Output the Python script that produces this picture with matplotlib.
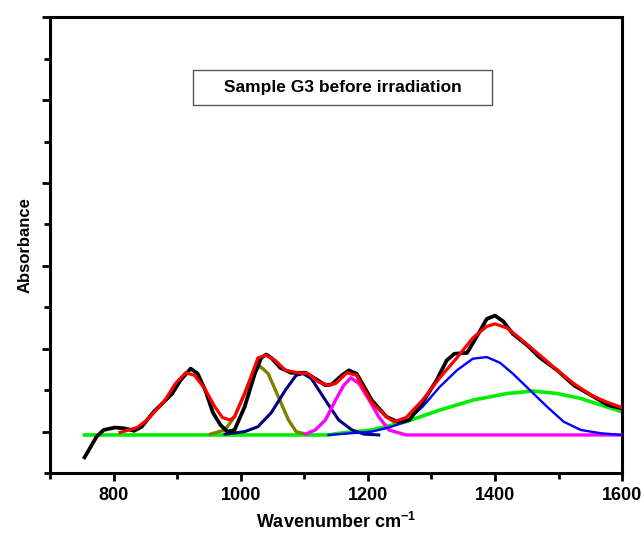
import matplotlib
matplotlib.use("Agg")
import matplotlib.pyplot as plt
from matplotlib.patches import Rectangle
from matplotlib.ticker import MultipleLocator, NullFormatter

plt.rcParams["font.family"] = ["Liberation Sans", "DejaVu Sans"]
plt.rcParams["mathtext.fontset"] = "custom"
plt.rcParams["mathtext.bf"] = "Liberation Sans:bold"

# measured spectrum (black)
meas_x = [754, 773, 784, 802, 817, 832, 844, 863, 879, 892, 905, 921, 932, 944, 956,
          968, 979, 990, 1006, 1022, 1032, 1040, 1048, 1062, 1079, 1102, 1117, 1133,
          1143, 1159, 1170, 1182, 1186, 1206, 1229, 1246, 1265, 1286, 1308, 1324, 1336,
          1356, 1376, 1387, 1400, 1413, 1428, 1451, 1471, 1498, 1524, 1551, 1578, 1595, 1600]
meas_y = [-0.031, -0.006, 0.002, 0.005, 0.004, 0.001, 0.006, 0.024, 0.036, 0.046, 0.062,
          0.076, 0.070, 0.050, 0.023, 0.008, 0.000, 0.002, 0.030, 0.070, 0.089, 0.093,
          0.089, 0.077, 0.071, 0.071, 0.064, 0.056, 0.057, 0.068, 0.074, 0.070, 0.065,
          0.038, 0.018, 0.012, 0.014, 0.035, 0.062, 0.086, 0.094, 0.095, 0.121, 0.136,
          0.140, 0.133, 0.118, 0.104, 0.089, 0.074, 0.056, 0.044, 0.032, 0.029, 0.028]

# cumulative fit (red)
fit_x = [810, 837, 852, 879, 897, 913, 927, 943, 959, 971, 983, 990, 1006, 1027, 1040,
         1054, 1070, 1090, 1106, 1122, 1138, 1149, 1167, 1182, 1186, 1206, 1229, 1241,
         1260, 1286, 1313, 1340, 1365, 1387, 1400, 1419, 1440, 1471, 1498, 1524, 1551,
         1578, 1600]
fit_y = [-0.001, 0.005, 0.014, 0.036, 0.058, 0.071, 0.068, 0.052, 0.030, 0.017, 0.014,
         0.018, 0.046, 0.089, 0.092, 0.086, 0.074, 0.071, 0.070, 0.060, 0.056, 0.058,
         0.071, 0.068, 0.062, 0.035, 0.018, 0.012, 0.017, 0.038, 0.065, 0.089, 0.113,
         0.127, 0.130, 0.125, 0.112, 0.092, 0.074, 0.058, 0.044, 0.035, 0.029]

# fitted bands
olive_x = [952, 975, 990, 1006, 1019, 1030, 1043, 1059, 1075, 1087, 1102]
olive_y = [-0.003, 0.002, 0.018, 0.046, 0.070, 0.079, 0.070, 0.042, 0.014, 0.000, -0.003]

navy_x = [975, 1006, 1027, 1048, 1070, 1087, 1098, 1111, 1133, 1154, 1175, 1194, 1217]
navy_y = [-0.003, 0.000, 0.006, 0.023, 0.050, 0.068, 0.070, 0.064, 0.038, 0.014, 0.002,
          -0.003, -0.004]

magenta_x = [1102, 1117, 1133, 1149, 1162, 1173, 1186, 1202, 1217, 1233, 1260, 1600]
magenta_y = [-0.003, 0.002, 0.014, 0.038, 0.056, 0.065, 0.058, 0.038, 0.018, 0.002,
             -0.004, -0.004]

blue_x = [1138, 1206, 1233, 1260, 1286, 1313, 1340, 1365, 1387, 1408, 1428, 1455, 1482,
          1508, 1535, 1567, 1600]
blue_y = [-0.004, 0.000, 0.005, 0.012, 0.030, 0.054, 0.074, 0.088, 0.090, 0.083, 0.070,
          0.050, 0.030, 0.012, 0.002, -0.002, -0.004]

green_x = [754, 1138, 1154, 1206, 1260, 1313, 1365, 1419, 1460, 1498, 1535, 1567, 1600]
green_y = [-0.004, -0.004, -0.002, 0.002, 0.012, 0.026, 0.038, 0.046, 0.049, 0.046,
           0.040, 0.032, 0.024]

title_text = "Sample G3 before irradiation"

fig = plt.figure(figsize=(6.44, 5.37), dpi=100)
ax = fig.add_axes([0.078, 0.119, 0.888, 0.849])

ax.plot(green_x, green_y, color="#00ee00", lw=2.6, zorder=2)
ax.plot(olive_x, olive_y, color="#808000", lw=2.4, zorder=3)
ax.plot(navy_x, navy_y, color="#000080", lw=2.2, zorder=3)
ax.plot(magenta_x, magenta_y, color="#ff00ff", lw=2.4, zorder=3)
ax.plot(blue_x, blue_y, color="#0000ff", lw=1.7, zorder=3)
ax.plot(meas_x, meas_y, color="black", lw=2.7, zorder=4)
ax.plot(fit_x, fit_y, color="#ff0000", lw=2.3, zorder=5)

ax.set_xlim(700, 1600)
ax.set_ylim(-0.05, 0.5)
ax.xaxis.set_major_locator(MultipleLocator(200))
ax.xaxis.set_minor_locator(MultipleLocator(100))
ax.yaxis.set_major_locator(MultipleLocator(0.1))
ax.yaxis.set_minor_locator(MultipleLocator(0.05))
ax.yaxis.set_major_formatter(NullFormatter())
ax.tick_params(which="both", direction="out", width=2, top=False, right=False)
ax.tick_params(which="major", length=6)
ax.tick_params(which="minor", length=4)
ax.tick_params(axis="x", labelsize=13, pad=4)
for lbl in ax.get_xticklabels():
    lbl.set_fontweight("bold")
for s in ax.spines.values():
    s.set_linewidth(2.2)

ax.set_xlabel(r"Wavenumber cm$^{\mathbf{-1}}$", fontsize=13, fontweight="bold", labelpad=6)
ax.set_ylabel("Absorbance", fontsize=12, fontweight="bold", labelpad=3)

ax.add_patch(Rectangle((0.25, 0.808), 0.522, 0.077, transform=ax.transAxes,
                       fill=False, edgecolor="#555555", lw=1.0, zorder=6))
ax.text(0.511, 0.846, title_text, transform=ax.transAxes, ha="center", va="center",
        fontsize=12.5, fontweight="bold", zorder=7)

fig.savefig("out.png", dpi=100)
